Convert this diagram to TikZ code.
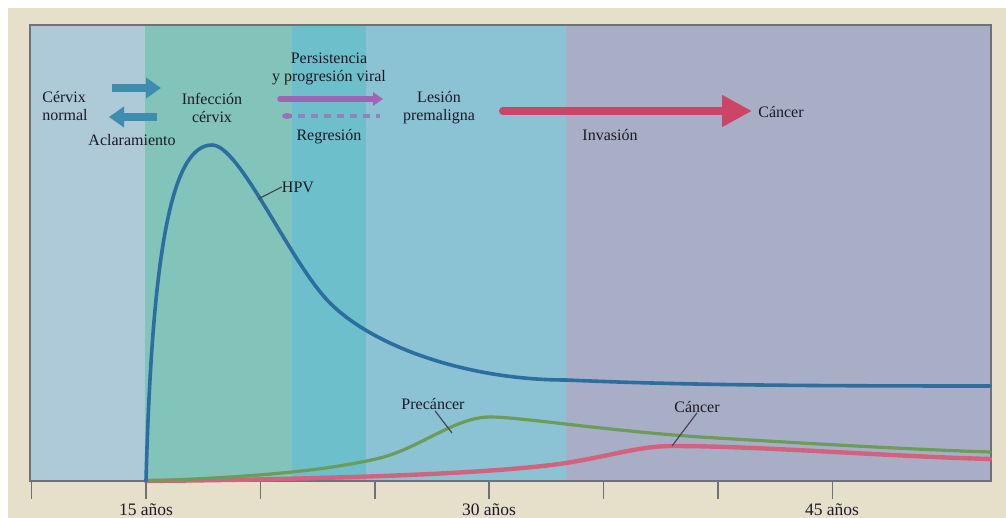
\documentclass[tikz,border=0pt]{standalone}
\usepackage{fontspec}
\setmainfont{Liberation Serif}
\usetikzlibrary{arrows.meta}
\definecolor{beige}{HTML}{E6E0CB}
\definecolor{bandA}{HTML}{AECAD8}
\definecolor{bandB}{HTML}{82C4B9}
\definecolor{bandC}{HTML}{6CBFCB}
\definecolor{bandD}{HTML}{8BC3D4}
\definecolor{bandE}{HTML}{A9AEC7}
\definecolor{framec}{HTML}{6E7278}
\definecolor{txt}{HTML}{1A1A26}
\definecolor{hpvc}{HTML}{2C6E9E}
\definecolor{prec}{HTML}{6C9C58}
\definecolor{canc}{HTML}{D2637E}
\definecolor{bluearr}{HTML}{3E8DAE}
\definecolor{purarr}{HTML}{A064B4}
\definecolor{redarr}{HTML}{CC4466}
\begin{document}
\begin{tikzpicture}[x=1pt,y=-1pt,
  lbl/.style={font=\fontsize{16}{18}\selectfont, text=txt, inner sep=0pt, align=center},
  axlbl/.style={font=\fontsize{17.5}{20}\selectfont, text=txt, inner sep=0pt},
  tick/.style={draw=framec, line width=1.6pt},
  leader/.style={draw=txt!80, line width=1.2pt},
  curve/.style={line width=3.6pt, line cap=round, line join=round}]
\useasboundingbox (0,0) rectangle (1006,518);
% background
\fill[beige] (0,0) rectangle (1006,518);
\fill[white] (0,0) rectangle (1006,8);
\fill[white] (0,0) rectangle (8,518);
% bands
\fill[bandA] (30,25) rectangle (145,481);
\fill[bandB] (145,25) rectangle (292,481);
\fill[bandC] (292,25) rectangle (366,481);
\fill[bandD] (366,25) rectangle (566,481);
\fill[bandE] (566,25) rectangle (991,481);
\draw[framec, line width=1.6pt] (30,25) rectangle (991,481);
% ticks
\foreach \t in {31.5,146,260.3,374.7,489.1,603.5,718,832.3}
  \draw[tick] (\t,481) -- (\t,499);
\node[axlbl] (l15) at (146,510) {15 años};
\node[axlbl] (l30) at (489,510) {30 años};
\node[axlbl] (l45) at (832,510) {45 años};
% curves
\draw[curve, canc, line width=4.4pt] (146,481) .. controls (350,479) and (500,473) .. (566,463)
  .. controls (610,456) and (640,446) .. (672,446)
  .. controls (760,446) and (880,456) .. (990,459);
\draw[curve, prec, line width=3.2pt] (146,481) .. controls (260,477) and (330,470) .. (380,458)
  .. controls (420,448) and (455,417) .. (490,417)
  .. controls (520,417) and (600,430) .. (700,437)
  .. controls (800,443) and (900,449) .. (990,452);
\draw[curve, hpvc] (146,481) .. controls (152,250) and (172,145) .. (212,145)
  .. controls (240,145) and (290,263) .. (330,303)
  .. controls (375,348) and (470,380) .. (566,380)
  .. controls (680,385) and (800,386) .. (990,386);
% curve labels
\coordinate (hpvpt) at (258,199);
\coordinate (prept) at (452,433);
\coordinate (canpt) at (672,446);
\node[lbl] (hpv) at (298,187) {HPV};
\node[lbl] (pre) at (433,404) {Precáncer};
\node[lbl] (can) at (697,407) {Cáncer};
\draw[leader] (hpvpt) -- (hpv.west);
\draw[leader] (pre.south)++(2,1) coordinate (pres) -- (prept);
\draw[leader] (can.south) -- (canpt);
% stage labels
\node[lbl, align=left] (cn) at (65,106) {Cérvix\\normal};
\node[lbl] (acl) at (132,140) {Aclaramiento};
\node[lbl] (inf) at (212,108) {Infección\\cérvix};
\node[lbl] (per) at (329,69) {Persistencia\\y progresión viral};
\node[lbl] (reg) at (329,137) {Regresión};
\node[lbl] (les) at (439,108) {Lesión\\premaligna};
\node[lbl] (inv) at (610,135) {Invasión};
\node[lbl] (cac) at (781,112) {Cáncer};
% arrows
\coordinate (a1s) at (112,88);  \coordinate (a1e) at (161,88);
\coordinate (a2s) at (157,117); \coordinate (a2e) at (109,117);
\draw[bluearr, line width=7.5pt, -{Triangle[length=15pt,width=20pt]}] (a1s) -- (a1e);
\draw[bluearr, line width=7.5pt, -{Triangle[length=15pt,width=20pt]}] (a2s) -- (a2e);
\coordinate (p1s) at (280,99); \coordinate (p1e) at (383,99);
\draw[purarr, line width=5.5pt, line cap=round, -{Triangle[length=10pt,width=13pt]}] (p1s) -- (p1e);
\coordinate (p2s) at (285,116); \coordinate (p2e) at (380,116);
\draw[purarr!65!bandC, line width=4.5pt, dash pattern=on 7pt off 6pt] (p2s) -- (p2e);
\fill[purarr!85!bandC] (287,116) ellipse (5pt and 3pt);
\coordinate (r1s) at (503,111); \coordinate (r1e) at (752,111);
\draw[redarr, line width=8pt, line cap=round, -{Triangle[length=30pt,width=30pt]}] (r1s) -- (r1e);
\end{tikzpicture}
\end{document}
